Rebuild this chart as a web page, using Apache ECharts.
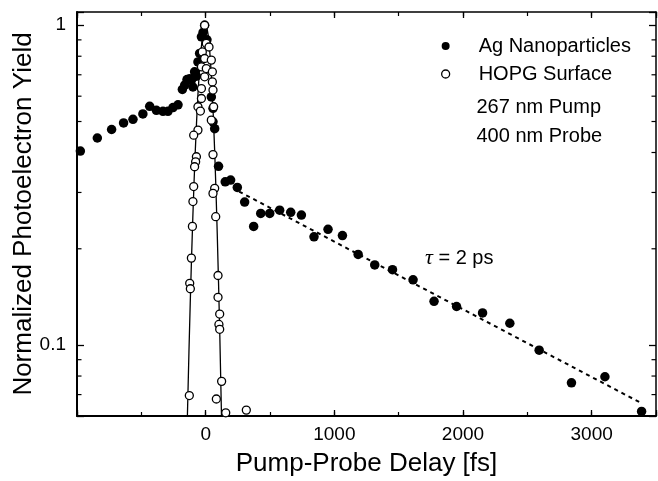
<!DOCTYPE html>
<html><head><meta charset="utf-8">
<script src="https://cdn.jsdelivr.net/npm/echarts@6/dist/echarts.min.js"></script>
<style>html,body{margin:0;padding:0;background:#fff}#c{width:658px;height:481px}</style>
</head><body><div id="c"></div>
<script>
// Ag nanoparticles (filled circles)
const agDelay = [-974,-842,-731,-638,-565,-488,-435,-383,-332,-293,-254,-215,-181,-163,-145,-124,-111,-99,-86,-72,-60,-47,-33,-20,-8,10,44,57,57,70,100,152,194,246,303,373,428,498,575,661,744,842,951,1063,1185,1314,1452,1612,1775,1950,2152,2364,2592,2843,3103,3388];
const agYield = [0.404,0.444,0.472,0.495,0.508,0.528,0.558,0.542,0.538,0.538,0.553,0.564,0.630,0.650,0.676,0.680,0.673,0.641,0.715,0.693,0.768,0.816,0.920,0.95,1.0,0.90,0.597,0.550,0.499,0.475,0.362,0.324,0.328,0.311,0.280,0.235,0.258,0.258,0.264,0.260,0.255,0.218,0.230,0.220,0.192,0.178,0.172,0.160,0.137,0.132,0.126,0.117,0.0964,0.0762,0.0796,0.062];
// HOPG surface (open circles)
const hopgDelay = [-8,5,26,-26,-8,44,-33,5,52,-8,52,-33,57,-33,62,-60,-41,44,-60,-93,57,-72,-78,-86,-93,70,57,-99,78,-103,-111,-124,-119,96,96,109,103,109,124,-127,83,156,316];
const hopgYield = [1.0,0.877,0.855,0.825,0.787,0.778,0.741,0.732,0.715,0.690,0.665,0.634,0.627,0.590,0.556,0.556,0.539,0.505,0.470,0.453,0.394,0.388,0.374,0.361,0.313,0.309,0.298,0.281,0.252,0.235,0.187,0.156,0.150,0.165,0.141,0.125,0.116,0.112,0.077,0.0695,0.0678,0.0614,0.0626];
// HOPG cross-correlation curve (solid line)
const hopgFitDelay = [-142,-130,-120,-110,-100,-90,-80,-70,-60,-50,-40,-30,-20,-10,0,10,20,30,40,50,60,70,80,90,100,110,123];
const hopgFitYield = [0.06,0.095,0.135,0.186,0.249,0.325,0.41,0.506,0.607,0.707,0.801,0.882,0.946,0.986,1.0,0.982,0.929,0.847,0.744,0.630,0.514,0.404,0.306,0.223,0.157,0.107,0.06];
// tau = 2 ps decay (dashed line)
const decayFitDelay = [260, 3390];
const decayFitYield = [0.302, 0.0657];
// axis ticks
const xMin = -1000, xMax = 3500, xMajor = 1000, xMinor = 500;
const xTickLabels = ['0','1000','2000','3000'];
const yMin = 0.06, yMax = 1.1;
const yTickLabels = ['0.1','1'];
const yMinorTicks = [0.07,0.08,0.09,0.2,0.3,0.4,0.5,0.6,0.7,0.8,0.9];

const FONT = 'Liberation Sans';
const zip = (a,b) => a.map((v,i)=>[v,b[i]]);

const chart = echarts.init(document.getElementById('c'));
const baseX = {type:'value', min:xMin, max:xMax, splitLine:{show:false}};
const axisLn = w => ({show:true, onZero:false, lineStyle:{color:'#000', width:w}});
chart.setOption({
  animation:false,
  backgroundColor:'#fff',
  grid:{left:77, right:2, top:12, bottom:65, containLabel:false, outerBoundsMode:'none'},
  xAxis:[
    Object.assign({}, baseX, {position:'bottom', interval:xMajor,
      axisLine:axisLn(2), axisTick:{inside:true, length:6, lineStyle:{color:'#000', width:1.3}},
      axisLabel:{color:'#000', fontSize:19, fontFamily:FONT, margin:9,
        formatter:v => xTickLabels.indexOf(String(Math.round(v)))>=0 ? String(Math.round(v)) : ''},
      name:'Pump-Probe Delay [fs]', nameLocation:'middle', nameGap:35, nameMoveOverlap:false,
      nameTextStyle:{color:'#000', fontSize:26, fontFamily:FONT}}),
    Object.assign({}, baseX, {position:'bottom', interval:xMinor,
      axisLine:{show:false, onZero:false}, axisTick:{inside:true, length:4, lineStyle:{color:'#000', width:1.2}}, axisLabel:{show:false}}),
    Object.assign({}, baseX, {position:'top', interval:xMajor,
      axisLine:axisLn(1.5), axisTick:{inside:true, length:6, lineStyle:{color:'#000', width:1.3}}, axisLabel:{show:false}}),
    Object.assign({}, baseX, {position:'top', interval:xMinor,
      axisLine:{show:false, onZero:false}, axisTick:{inside:true, length:4, lineStyle:{color:'#000', width:1.2}}, axisLabel:{show:false}})
  ],
  yAxis:[
    {type:'log', logBase:10, min:yMin, max:yMax, position:'left', splitLine:{show:false},
      axisLine:axisLn(2), axisTick:{inside:true, length:7, lineStyle:{color:'#000', width:1.3}},
      axisLabel:{color:'#000', fontSize:19, fontFamily:FONT, margin:11,
        formatter:v => { const r = Math.round(v*1000)/1000; const s = String(r); return yTickLabels.indexOf(s)>=0 ? s : ''; }},
      name:'Normalized Photoelectron Yield', nameLocation:'middle', nameGap:40, nameMoveOverlap:false,
      nameTextStyle:{color:'#000', fontSize:26, fontFamily:FONT}},
    {type:'log', logBase:10, min:yMin, max:yMax, position:'right', splitLine:{show:false},
      axisLine:axisLn(1.5), axisTick:{inside:true, length:7, lineStyle:{color:'#000', width:1.3}}, axisLabel:{show:false}}
  ],
  legend:{
    data:[
      {name:'Ag Nanoparticles', icon:'circle', itemStyle:{color:'#000', borderWidth:0}},
      {name:'HOPG Surface', icon:'circle', itemStyle:{color:'#fff', borderColor:'#000', borderWidth:1.3}}
    ],
    orient:'vertical', left:441, top:36, padding:0, itemWidth:8, itemHeight:8, itemGap:8, selectedMode:false,
    textStyle:{color:'#000', fontSize:20, fontFamily:FONT, padding:[0,0,0,24]}
  },
  graphic:[
    {type:'text', x:476.5, y:107.5, style:{text:'267 nm Pump', fontSize:20, fontFamily:FONT, fill:'#000', verticalAlign:'middle'}},
    {type:'text', x:476.5, y:136, style:{text:'400 nm Probe', fontSize:20, fontFamily:FONT, fill:'#000', verticalAlign:'middle'}},
    {type:'text', x:425, y:258.5, style:{text:'{t|τ} = 2 ps', fontSize:20, fontFamily:FONT, fill:'#000', verticalAlign:'middle',
      rich:{t:{fontSize:22, fontFamily:'Liberation Serif', fontStyle:'italic', fill:'#000'}}}}
  ],
  series:[
    {type:'custom', name:'yMinor', xAxisIndex:0, yAxisIndex:0, silent:true, clip:false,
      data: yMinorTicks.map(v=>[xMin, v]),
      renderItem:(params, api) => {
        const cs = params.coordSys;
        const y = api.coord([xMin, api.value(1)])[1];
        const st = {stroke:'#000', lineWidth:1.2};
        return {type:'group', children:[
          {type:'line', shape:{x1:cs.x, y1:y, x2:cs.x+4.5, y2:y}, style:st},
          {type:'line', shape:{x1:cs.x+cs.width-4.5, y1:y, x2:cs.x+cs.width, y2:y}, style:st}
        ]};
      }},
    {type:'line', name:'decay', data:zip(decayFitDelay, decayFitYield), showSymbol:false, symbol:'none',
      lineStyle:{color:'#000', width:2, type:[4,4]}, z:2},
    {type:'scatter', name:'Ag Nanoparticles', data:zip(agDelay, agYield), symbol:'circle', symbolSize:9.5,
      itemStyle:{color:'#000', opacity:1}, z:3},
    {type:'line', name:'hopgFit', data:zip(hopgFitDelay, hopgFitYield), showSymbol:false, symbol:'none', smooth:false,
      lineStyle:{color:'#000', width:1.3}, z:4},
    {type:'scatter', name:'HOPG Surface', data:zip(hopgDelay, hopgYield), symbol:'circle', symbolSize:8,
      itemStyle:{color:'#fff', borderColor:'#000', borderWidth:1.3, opacity:1}, z:5}
  ]
});
</script></body></html>
